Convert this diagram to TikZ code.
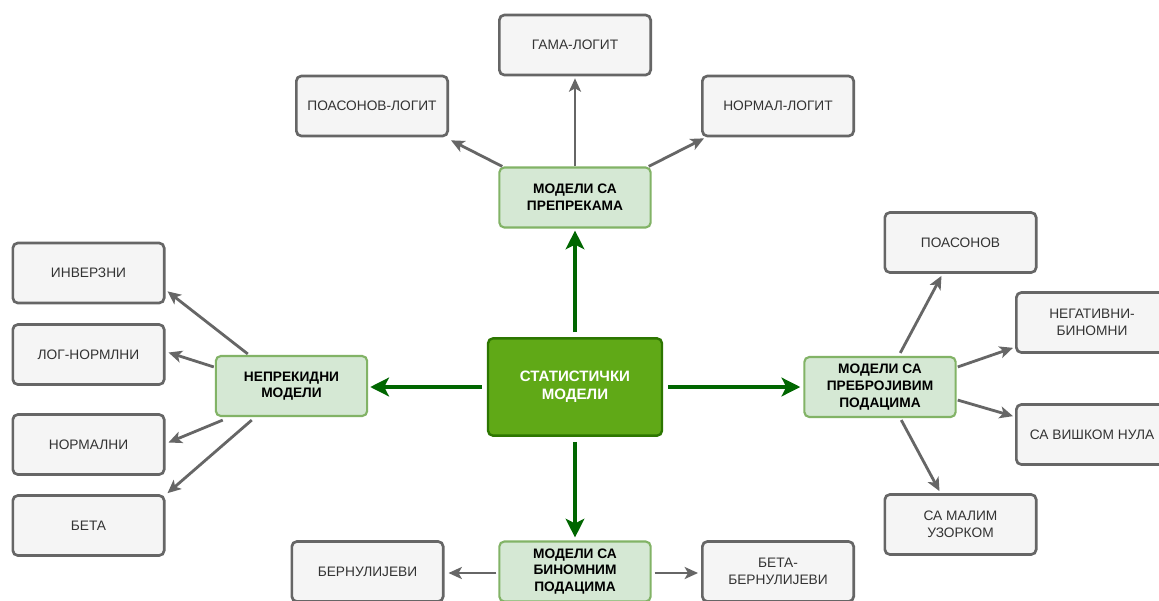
\documentclass[tikz,border=0pt]{standalone}
\usepackage{fontspec}
\setmainfont{Liberation Sans}
\usetikzlibrary{arrows.meta}
\definecolor{cfill}{HTML}{60A917}
\definecolor{cdraw}{HTML}{2D7600}
\definecolor{gfill}{HTML}{D5E8D4}
\definecolor{gdraw}{HTML}{82B366}
\definecolor{bfill}{HTML}{F5F5F5}
\definecolor{bdraw}{HTML}{666666}
\definecolor{btext}{HTML}{333333}
\definecolor{darrow}{HTML}{006600}
\tikzset{
  base/.style={rectangle, rounded corners=3.75pt, align=center, inner sep=2pt},
  leafbox/.style={base, line width=2pt, fill=bfill, draw=bdraw, text=btext, minimum width=113.5pt, minimum height=45pt, font=\fontsize{10.3}{13}\selectfont},
  subbox/.style={base, line width=1.6pt, fill=gfill, draw=gdraw, text=black, minimum width=113.5pt, minimum height=45pt, font=\fontsize{10.3}{12.5}\selectfont\bfseries},
  mainbox/.style={base, line width=1.8pt, fill=cfill, draw=cdraw, text=white, minimum width=130.5pt, minimum height=73pt, font=\fontsize{11.3}{13.5}\selectfont\bfseries},
  garrow/.style={draw=bdraw, line width=2.1pt, -{Stealth[length=10pt,width=9pt,inset=2.5pt]}},
  marrow/.style={draw=darrow, line width=3.3pt, -{Stealth[length=14pt,width=14pt,inset=3.5pt]}}
}
\begin{document}
\begin{tikzpicture}[x=0.75pt,y=-0.75pt]
\useasboundingbox (0,0) rectangle (1159,600);
\fill[white] (0,0) rectangle (1159,600);
\begin{scope}
\clip (0,0) rectangle (1159,600);
% central
\node[mainbox] (c) at (575,387) {СТАТИСТИЧКИ\\МОДЕЛИ};
% sub nodes
\node[subbox] (tg) at (575,197.5) {МОДЕЛИ СА\\ПРЕПРЕКАМА};
\node[subbox] (lg) at (291.5,386) {НЕПРЕКИДНИ\\МОДЕЛИ};
\node[subbox] (rg) at (880,387) {МОДЕЛИ СА\\ПРЕБРОЈИВИМ\\ПОДАЦИМА};
\node[subbox] (bg) at (575,571.5) {МОДЕЛИ СА\\БИНОМНИМ\\ПОДАЦИМА};
% top leaves
\node[leafbox] (gama) at (575,45) {ГАМА-ЛОГИТ};
\node[leafbox] (pl) at (372,106) {ПОАСОНОВ-ЛОГИТ};
\node[leafbox] (nl) at (778,106) {НОРМАЛ-ЛОГИТ};
% left leaves
\node[leafbox] (inv) at (88.5,273) {ИНВЕРЗНИ};
\node[leafbox] (ln) at (88.5,354.5) {ЛОГ-НОРМЛНИ};
\node[leafbox] (nor) at (88.5,444.5) {НОРМАЛНИ};
\node[leafbox] (beta) at (88.5,525.5) {БЕТА};
% right leaves
\node[leafbox] (poas) at (960.5,242.5) {ПОАСОНОВ};
\node[leafbox] (nb) at (1092,322.5) {НЕГАТИВНИ-\\БИНОМНИ};
\node[leafbox] (sv) at (1092,434.5) {СА ВИШКОМ НУЛА};
\node[leafbox] (sm) at (960.5,524.5) {СА МАЛИМ\\УЗОРКОМ};
% bottom leaves
\node[leafbox] (bern) at (367.5,571.5) {БЕРНУЛИЈЕВИ};
\node[leafbox] (bb) at (778,571.5) {БЕТА-\\БЕРНУЛИЈЕВИ};
% main arrows
\draw[marrow] ([shift={(0,-5)}]c.north) -- ([shift={(0,2)}]tg.south);
\draw[marrow] ([shift={(0,5)}]c.south) -- ([shift={(0,-3)}]bg.north);
\draw[marrow] ([shift={(-5,0)}]c.west) -- ([shift={(2,1)}]lg.east);
\draw[marrow] ([shift={(5,0)}]c.east) -- ([shift={(-3,0)}]rg.west);
% top arrows
\draw[garrow] (tg.north) -- ([shift={(0,2)}]gama.south);
\draw[garrow] ([shift={(4,0)}]tg.north west) -- ([shift={(2,3)}]pl.south east);
\draw[garrow] ([shift={(-3,0)}]tg.north east) -- ([shift={(3,1)}]nl.south west);
% left arrows
\draw[garrow] ([shift={(33,-1)}]lg.north west) -- ([shift={(2,-13)}]inv.south east);
\draw[garrow] ([shift={(-1,12)}]lg.north west) -- ([shift={(3,-2)}]ln.east);
\draw[garrow] ([shift={(8,3)}]lg.south west) -- ([shift={(3,-2)}]nor.east);
\draw[garrow] ([shift={(37,3)}]lg.south west) -- ([shift={(2,-1)}]beta.north east);
% right arrows
\draw[garrow] ([shift={(97,-3)}]rg.north west) -- ([shift={(58,2)}]poas.south west);
\draw[garrow] ([shift={(1,11)}]rg.north east) -- ([shift={(-2,-6)}]nb.south west);
\draw[garrow] ([shift={(1,-18)}]rg.south east) -- ([shift={(-2,13)}]sv.north west);
\draw[garrow] ([shift={(98,2)}]rg.south west) -- ([shift={(56,-2)}]sm.north west);
% bottom arrows
\draw[garrow] ([shift={(-2,1.5)}]bg.west) -- ([shift={(4,1.5)}]bern.east);
\draw[garrow] ([shift={(3,1.5)}]bg.east) -- ([shift={(-3,1.5)}]bb.west);
\end{scope}
\end{tikzpicture}
\end{document}
